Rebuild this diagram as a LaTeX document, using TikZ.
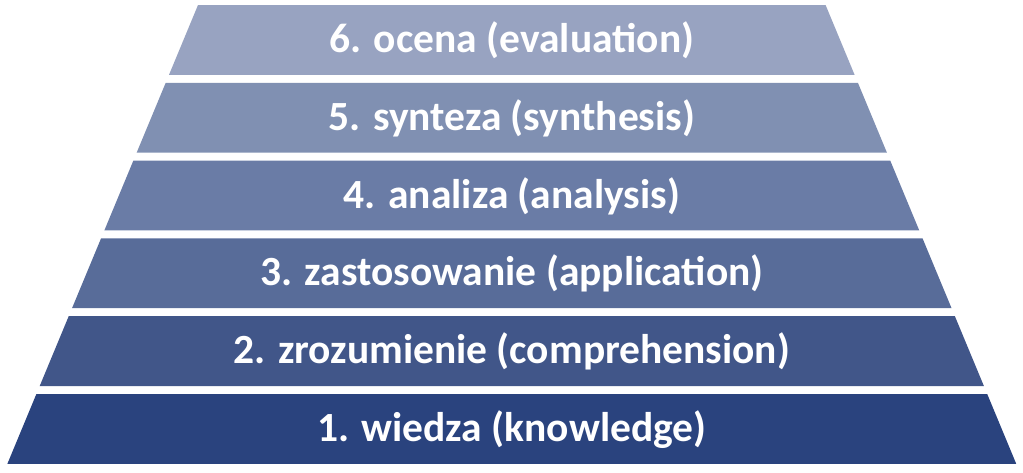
\documentclass[tikz,border=0pt]{standalone}
\usepackage{fontspec}
\setmainfont{Carlito}
\definecolor{c1}{HTML}{2A437E}
\definecolor{c2}{HTML}{415689}
\definecolor{c3}{HTML}{586C99}
\definecolor{c4}{HTML}{6A7CA6}
\definecolor{c5}{HTML}{8090B2}
\definecolor{c6}{HTML}{98A3C1}
\tikzset{
  lbl/.style={anchor=base, text=white, inner sep=0pt, font=\fontsize{41.5}{50}\selectfont\bfseries},
}
\begin{document}
\begin{tikzpicture}[x=1pt,y=-1pt]
\useasboundingbox (0,0) rectangle (1023,472);
\foreach \i/\col/\txt in {1/c1/{1. wiedza (knowledge)},2/c2/{2. zrozumienie (comprehension)},3/c3/{3. zastosowanie (application)},4/c4/{4. analiza (analysis)},5/c5/{5. synteza (synthesis)},6/c6/{6. ocena (evaluation)}}{
  \pgfmathsetmacro\yt{394-(\i-1)*77.8}
  \pgfmathsetmacro\yb{\yt+69.8}
  \pgfmathsetmacro\xt{7.3+(464-\yt)*0.4155}
  \pgfmathsetmacro\xb{7.3+(464-\yb)*0.4155}
  \pgfmathsetmacro\xtr{1023.6-\xt}
  \pgfmathsetmacro\xbr{1023.6-\xb}
  \pgfmathsetmacro\ybase{\yt+47.4}
  \fill[\col] (\xb,\yb) -- (\xt,\yt) -- (\xtr,\yt) -- (\xbr,\yb) -- cycle;
  \node[lbl] (t\i) at (511.8,\ybase) {\txt};
}
\end{tikzpicture}
\end{document}
